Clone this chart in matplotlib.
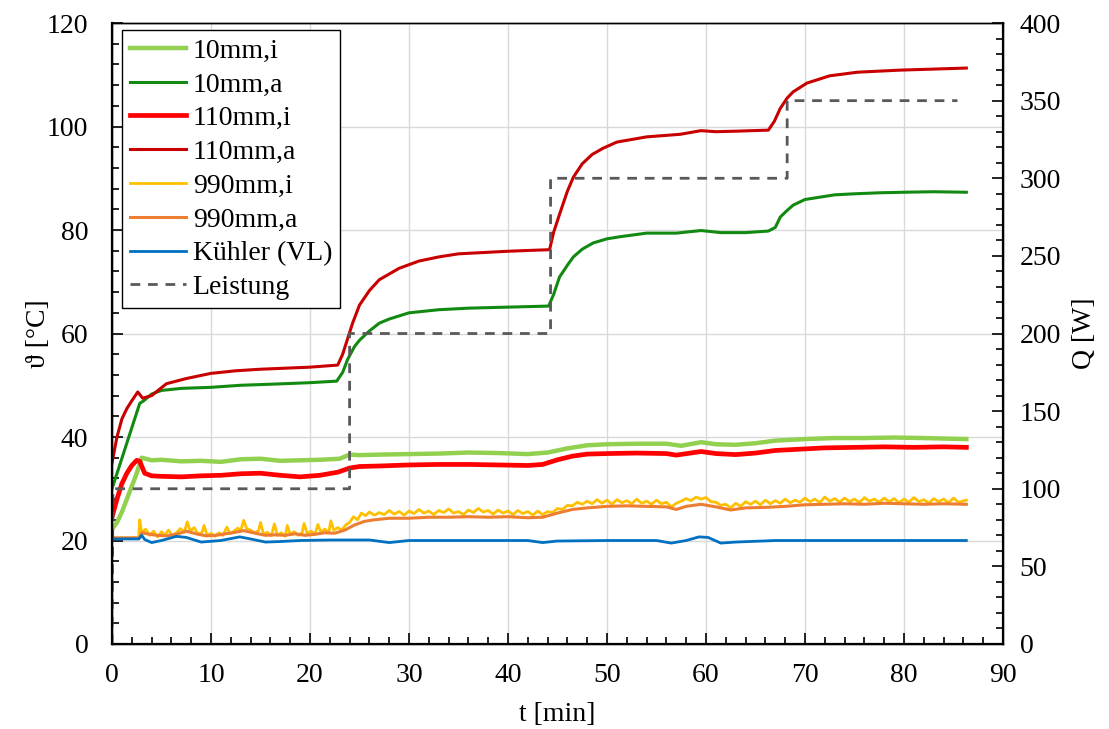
import matplotlib
matplotlib.use("Agg")
import matplotlib.pyplot as plt
from matplotlib.ticker import MultipleLocator

plt.rcParams['font.family'] = ['Liberation Serif', 'DejaVu Serif']

# ---------------- data ----------------
labels = ["10mm,i", "10mm,a", "110mm,i", "110mm,a", "990mm,i", "990mm,a", "Kühler (VL)", "Leistung"]

t_10i = [0, 0.5, 1, 1.5, 2, 2.5, 3.0, 4, 5, 7, 9, 11, 13, 15, 17, 19, 21, 23, 24, 25, 27, 30, 33, 36, 39, 42, 44,
         46, 48, 50, 53, 56, 57.5, 59.5, 61, 63, 65, 67, 70, 73, 76, 79, 82, 84, 86.3]
v_10i = [22.2, 23.5, 25.5, 28, 30.5, 33, 36, 35.5, 35.6, 35.3, 35.4, 35.2, 35.7, 35.8, 35.4, 35.5, 35.6, 35.8, 36.6,
         36.5, 36.6, 36.7, 36.8, 37.0, 36.9, 36.7, 37.0, 37.8, 38.4, 38.6, 38.7, 38.7, 38.3, 39.0, 38.6, 38.5, 38.8,
         39.3, 39.6, 39.8, 39.8, 39.9, 39.8, 39.7, 39.6]

t_10a = [0, 2.8, 3.2, 4, 5, 7, 10, 13, 16, 20, 22.7, 23.3, 23.8, 24.5, 25, 26, 27, 28, 30, 33, 36, 40, 44.1, 44.6,
         45.2, 46, 46.6, 47.5, 48.6, 50, 51.3, 54, 57, 59.5, 61.5, 64, 66.3, 67, 67.5, 68.2, 68.8, 70, 71, 73, 75,
         77.6, 80, 83, 86.3]
v_10a = [30, 46.5, 47, 48.3, 49.0, 49.4, 49.6, 50.0, 50.2, 50.5, 50.8, 52.5, 55, 57.5, 58.7, 60.5, 62.0, 62.8, 64.0,
         64.6, 64.9, 65.1, 65.3, 67.5, 70.9, 73.2, 74.8, 76.3, 77.5, 78.3, 78.7, 79.4, 79.4, 79.9, 79.5, 79.5, 79.8,
         80.5, 82.5, 83.8, 84.8, 85.9, 86.2, 86.8, 87.0, 87.2, 87.3, 87.4, 87.3]

t_110i = [0, 0.5, 1, 1.5, 2, 2.5, 2.8, 3.3, 4, 5, 7, 9, 11, 13, 15, 17, 19, 21, 22.8, 24, 25, 27, 30, 33, 36, 39, 42,
          43.5, 45, 46.5, 48, 50, 53, 56, 57, 59.5, 61, 63, 65, 67, 69, 72, 75, 78, 81, 84, 86.3]
v_110i = [24.5, 28, 31, 33, 34.5, 35.5, 35.3, 33, 32.5, 32.4, 32.3, 32.5, 32.6, 32.9, 33.0, 32.6, 32.3, 32.6, 33.2,
          34.0, 34.3, 34.4, 34.6, 34.7, 34.7, 34.6, 34.5, 34.7, 35.6, 36.3, 36.7, 36.8, 36.9, 36.8, 36.5, 37.2, 36.8,
          36.6, 36.9, 37.4, 37.6, 37.9, 38.0, 38.1, 38.0, 38.1, 38.0]

t_110a = [0, 0.5, 1.0, 1.5, 2.0, 2.6, 3.1, 4, 5.5, 7.5, 10, 12.5, 15, 17.5, 20, 22.8, 23.3, 23.8, 24.3, 25, 26, 27,
          29, 31, 33, 35, 40, 44.2, 44.6, 45.2, 46, 46.6, 47.5, 48.5, 49.6, 51, 54, 57.4, 59.5, 61, 63, 66.3, 66.9,
          67.5, 68.2, 68.8, 70.2, 72.5, 75.3, 79.6, 83, 86.3]
v_110a = [35, 40, 43.5, 45.5, 47, 48.7, 47.5, 48, 50.3, 51.3, 52.3, 52.8, 53.1, 53.3, 53.5, 53.9, 56, 59, 62, 65.5,
          68.3, 70.4, 72.6, 74.0, 74.8, 75.4, 75.9, 76.2, 79.5, 83, 87.5, 90.2, 92.8, 94.6, 95.8, 97.0, 98.0, 98.5,
          99.2, 99.0, 99.1, 99.3, 101, 103.5, 105.5, 106.7, 108.4, 109.8, 110.5, 110.9, 111.1, 111.3]

t_990i = [0, 2.7, 2.8, 3.0, 3.4, 3.8, 4.2, 4.6, 5.0, 5.3, 5.7, 6.1, 6.5, 6.9, 7.3, 7.6, 7.9, 8.3, 8.7, 9.1, 9.3, 9.6,
          10.0, 10.4, 10.8, 11.2, 11.6, 11.9, 12.3, 12.7, 13.0, 13.3, 13.6, 14.0, 14.4, 14.8, 15.0, 15.3, 15.7, 16.1,
          16.4, 16.7, 17.1, 17.5, 17.7, 18.0, 18.4, 18.8, 19.2, 19.4, 19.7, 20.1, 20.5, 20.8, 21.1, 21.5, 21.9, 22.1,
          22.4, 22.8, 23.2, 23.6, 24.0, 24.4, 24.8, 25.2, 25.6, 26.0, 26.5, 27.0, 27.5, 28.0, 28.5, 29, 29.5, 30,
          30.5, 31, 31.5, 32, 32.5, 33, 33.5, 34, 34.5, 35, 35.5, 36, 36.5, 37, 37.5, 38, 38.5, 39, 39.5, 40, 40.5,
          41, 41.5, 42, 42.5, 43, 43.5, 44, 44.5, 45, 45.5, 46, 46.5, 47, 47.5, 48, 48.5, 49, 49.5, 50, 50.5, 51,
          51.5, 52, 52.5, 53, 53.5, 54, 54.5, 55, 55.5, 56, 56.5, 57, 57.5, 58, 58.5, 59, 59.5, 60, 60.5, 61, 61.5,
          62, 62.5, 63, 63.5, 64, 64.5, 65, 65.5, 66, 66.5, 67, 67.5, 68, 68.5, 69, 69.5, 70, 70.5, 71, 71.5, 72,
          72.5, 73, 73.5, 74, 74.5, 75, 75.5, 76, 76.5, 77, 77.5, 78, 78.5, 79, 79.5, 80, 80.5, 81, 81.5, 82, 82.5,
          83, 83.5, 84, 84.5, 85, 85.5, 86.3]
v_990i = [20.5, 20.5, 24.0, 21.5, 22.2, 21.0, 21.8, 20.7, 21.7, 21.0, 22.0, 20.9, 21.5, 22.3, 21.6, 23.6, 21.8, 22.5,
          21.2, 21.6, 22.9, 21.0, 21.4, 20.8, 21.5, 21.0, 22.6, 21.3, 21.8, 22.4, 21.9, 23.9, 22.3, 22.0, 21.5, 21.9,
          23.5, 21.2, 21.6, 20.9, 23.2, 21.0, 21.5, 20.8, 22.9, 21.2, 21.7, 21.0, 21.5, 23.3, 21.4, 21.8, 21.2, 23.1,
          21.6, 22.2, 21.5, 23.8, 22.0, 22.5, 22.0, 23.0, 23.5, 24.6, 24.0, 25.3, 24.8, 25.5, 24.9, 25.4, 25.0, 25.8,
          25.1, 25.6, 24.9, 25.7, 25.2, 26.0, 25.3, 25.7, 25.0, 25.8, 25.4, 26.1, 25.3, 25.6, 25.0, 25.9, 25.4, 26.2,
          25.5, 25.8, 25.1, 25.9, 25.3, 25.7, 25.0, 25.8, 25.2, 25.6, 24.9, 25.7, 25.0, 25.6, 25.4, 26.2, 26.0, 26.8,
          26.7, 27.4, 27.0, 27.6, 27.1, 27.9, 27.2, 27.8, 27.0, 27.9, 27.3, 27.7, 27.1, 28.0, 27.2, 27.6, 27.0, 27.8,
          27.1, 27.4, 26.5, 27.2, 27.6, 28.1, 27.7, 28.4, 28.0, 28.3, 27.5, 27.4, 26.8, 27.0, 26.3, 27.2, 26.6, 27.5,
          27.0, 27.6, 26.9, 27.8, 27.1, 27.7, 27.2, 28.0, 27.3, 27.8, 27.4, 28.2, 27.5, 28.0, 27.3, 28.4, 27.6, 28.1,
          27.4, 28.2, 27.5, 28.0, 27.3, 28.3, 27.6, 28.0, 27.4, 28.2, 27.5, 28.1, 27.3, 28.0, 27.4, 28.3, 27.5, 27.9,
          27.2, 28.1, 27.5, 28.0, 27.3, 28.2, 27.4, 27.8]

t_990a = [0, 2.8, 3.0, 3.5, 4.5, 5.5, 6.5, 7.5, 8.5, 9.5, 10.5, 11.5, 12.5, 13.3, 14.5, 15.5, 16.5, 17.5, 18.5, 19.5,
          20.5, 21.5, 22.5, 23.5, 24.5, 25.5, 26.5, 28, 30, 32, 34, 36, 38, 40, 42, 43.5, 45, 46.5, 48, 50, 52, 54,
          56, 57, 58, 59.5, 61, 62.5, 64, 66, 68, 70, 72, 74, 76, 78, 80, 82, 84, 86.3]
v_990a = [20.5, 20.5, 21.5, 21.3, 21.0, 20.9, 21.2, 21.8, 21.3, 20.9, 21.0, 21.3, 21.6, 21.9, 21.4, 21.0, 21.1, 21.0,
          21.3, 21.0, 21.2, 21.5, 21.4, 22.0, 23.0, 23.7, 24.0, 24.3, 24.3, 24.5, 24.5, 24.6, 24.5, 24.6, 24.4, 24.5,
          25.3, 26.0, 26.3, 26.6, 26.7, 26.6, 26.5, 26.0, 26.6, 27.0, 26.5, 25.9, 26.3, 26.4, 26.6, 26.9, 27.0, 27.1,
          27.0, 27.2, 27.1, 27.0, 27.1, 27.0]

t_vl = [0, 2.7, 3.0, 3.3, 4.0, 5.0, 6.5, 7.5, 9.0, 11, 12.9, 14, 15.5, 17, 19, 22, 26, 28, 30, 34, 40, 42, 43.5, 45,
        50, 55, 56.5, 58, 59.3, 60.2, 61.5, 63, 67, 75, 86.3]
v_vl = [20.3, 20.3, 21.0, 20.2, 19.6, 20.0, 20.8, 20.6, 19.7, 20.0, 20.7, 20.3, 19.7, 19.8, 20.0, 20.1, 20.1, 19.6,
        20.0, 20.0, 20.0, 20.0, 19.6, 19.9, 20.0, 20.0, 19.5, 20.0, 20.7, 20.6, 19.5, 19.7, 20.0, 20.0, 20.0]

t_q = [0, 0.1, 24.0, 24.0, 44.3, 44.3, 68.2, 68.2, 85.4]
v_q = [0, 100, 100, 200, 200, 300, 300, 350, 350]

colors = ["#92D050", "#128A12", "#FF0000", "#C80000", "#FFC000", "#ED7D31", "#0070C0", "#595959"]

# ---------------- figure ----------------
fig = plt.figure(figsize=(11.09, 7.29), dpi=100)
ax = fig.add_axes([0.101, 0.1166, 0.8034, 0.8518])
ax2 = ax.twinx()

series = [(t_10i, v_10i, 3.2), (t_10a, v_10a, 2.2), (t_110i, v_110i, 3.4), (t_110a, v_110a, 2.2),
          (t_990i, v_990i, 2.0), (t_990a, v_990a, 2.2), (t_vl, v_vl, 2.0)]
handles = []
for (tt, vv, lw), c, lab in zip(series, colors[:7], labels[:7]):
    h, = ax.plot(tt, vv, color=c, lw=lw, label=lab, solid_joinstyle='round')
    handles.append(h)
hq, = ax2.plot(t_q, v_q, color=colors[7], lw=2.0, ls=(0, (3.5, 2.8)), label=labels[7])
handles.append(hq)

ax.set_xlim(0, 90)
ax.set_ylim(0, 120)
ax2.set_ylim(0, 400)

ax.xaxis.set_major_locator(MultipleLocator(10))
ax.xaxis.set_minor_locator(MultipleLocator(2))
ax.yaxis.set_major_locator(MultipleLocator(20))
ax.yaxis.set_minor_locator(MultipleLocator(4))
ax2.yaxis.set_major_locator(MultipleLocator(50))
ax2.yaxis.set_minor_locator(MultipleLocator(10))

ax.grid(True, which='major', color='#D9D9D9', lw=1.0)
ax.set_axisbelow(True)

for a in (ax, ax2):
    a.tick_params(which='both', direction='in', labelsize=20, width=1.2, pad=12)
    a.tick_params(which='major', length=8)
    a.tick_params(which='minor', length=5)
    for s in a.spines.values():
        s.set_linewidth(1.0)
ax.tick_params(axis='y', pad=17)
ax.tick_params(axis='x', pad=14)
ax.spines['left'].set_linewidth(1.6)
ax.spines['bottom'].set_linewidth(1.6)
ax2.spines['right'].set_linewidth(1.6)

ax.set_xlabel("t [min]", fontsize=20, labelpad=10)
ax.set_ylabel("ϑ [°C]", fontsize=20, labelpad=-3)
ax2.set_ylabel("Q [W]", fontsize=20, labelpad=8)

leg = ax2.legend(handles=handles, loc='upper left', bbox_to_anchor=(0.011, 0.989), borderaxespad=0,
                 fontsize=20, frameon=True, fancybox=False, edgecolor='black', framealpha=1,
                 handlelength=2.0, handletextpad=0.25, labelspacing=0.3, borderpad=0.3)
leg.get_frame().set_linewidth(1.0)

fig.savefig("out.png", dpi=100)
